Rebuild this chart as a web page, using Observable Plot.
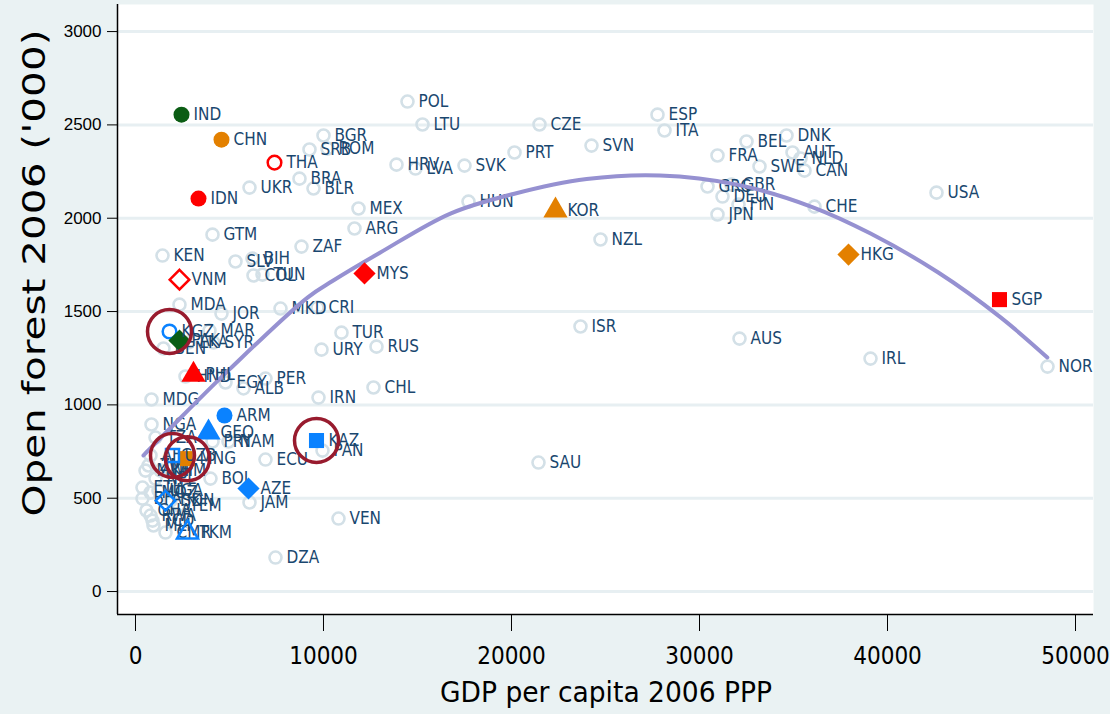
<!DOCTYPE html>
<html><head><meta charset="utf-8">
<script src="https://cdn.jsdelivr.net/npm/d3@7"></script>
<script src="https://cdn.jsdelivr.net/npm/@observablehq/plot@0.6"></script>
<style>body{margin:0;background:#eaf2f3;overflow:hidden}</style>
</head><body><div id="chart"></div>
<script>
// ---- data (GDP per capita 2006 PPP, open forest 2006 '000) ----
const grayCodes = ["POL","LTU","BGR","SRB","ROM","HRV","LVA","SVK","PRT","CZE","SVN","ESP","ITA","UKR","BRA","BLR","MEX","ARG","HUN","NZL","FRA","BEL","DNK","AUT","NLD","SWE","CAN","GRC","GBR","DEU","FIN","JPN","CHE","USA","GTM","KEN","SLV","BIH","COL","TUN","ZAF","MDA","JOR","MKD","CRI","MAR","SYR","LKA","BEN","TUR","URY","RUS","ISR","AUS","IRL","NOR","HND","EGY","ALB","PER","CHL","IRN","MDG","NGA","TZA","PRY","NAM","ECU","PAN","SAU","AFG","MWI","NPL","BOL","ETH","MOZ","UGA","BFA","SDN","YEM","JAM","RWA","MLI","CMR","VEN","DZA","ZMB","KHM","GHA","TCD"];
const grayGdp   = [14468,15266,10000,9255,10213,13883,14894,17500,20160,21489,24255,27766,28138,6064,8723,9468,11862,11649,17713,24734,30957,32500,34628,34947,35372,33191,35585,30426,31702,31223,32074,30957,36117,42606,4096,1436,5319,6223,6277,6755,8830,2340,4574,7713,9681,3936,4149,2819,1489,10957,9894,12819,23670,32128,39096,48511,2660,4787,5745,6915,12660,9734,851,851,1064,4096,4947,6915,9947,21436,798,532,1064,3989,372,798,1223,372,1862,2287,6064,798,957,1596,10798,7447,691,1330,585,904];
const grayForest= [2625,2502,2443,2368,2373,2287,2266,2282,2352,2502,2389,2555,2470,2164,2212,2159,2052,1945,2089,1886,2336,2411,2443,2352,2320,2277,2255,2170,2180,2116,2073,2020,2062,2137,1912,1800,1768,1784,1693,1698,1848,1537,1489,1516,1521,1398,1334,1334,1302,1387,1296,1312,1420,1355,1248,1205,1152,1120,1088,1141,1093,1039,1029,895,825,804,804,707,755,691,729,648,605,605,557,530,541,498,487,461,477,407,354,316,391,182,675,648,434,380];

const hlCodes  = ["IND","PAK","CHN","KOR","HKG","MNG","THA","IDN","VNM","MYS","SGP","PHL","KGZ","ARM","GEO","UZB","AZE","TJK","TKM","KAZ"];
const hlGdp    = [2447,2340,4574,22340,37926,2766,7394,3351,2340,12181,45957,3085,1809,4734,3883,1968,6011,1596,2766,9628];
const hlForest = [2555,1345,2421,2041,1805,712,2298,2105,1671,1704,1564,1162,1393,943,852,729,552,487,316,809];
const hlRegion = ["South Asia","South Asia","East Asia","East Asia","East Asia","East Asia","South-East Asia","South-East Asia","South-East Asia","South-East Asia","South-East Asia","South-East Asia","Central Asia & Caucasus","Central Asia & Caucasus","Central Asia & Caucasus","Central Asia & Caucasus","Central Asia & Caucasus","Central Asia & Caucasus","Central Asia & Caucasus","Central Asia & Caucasus"];
const hlShape  = ["circle","diamond","circle","triangle","diamond","square","circle","circle","diamond","diamond","square","triangle","circle","circle","triangle","square","diamond","diamond","triangle","square"];
const hlHollow = [false,false,false,false,false,false,true,false,true,false,false,false,true,false,false,true,false,true,true,false];
const ringCodes = ["KGZ","UZB","MNG","KAZ"];

// fitted quadratic curve
const fitGdp    = [425,1900,5000,9150,10500,13000,16750,20100,24000,27900,32000,36000,39100,42700,46000,48500];
const fitForest = [729,880,1190,1575,1665,1815,2025,2130,2210,2229,2180,2060,1918,1709,1470,1254];

const xTicks = [0,10000,20000,30000,40000,50000];
const yTicks = [0,500,1000,1500,2000,2500,3000];
const regions = ["South Asia","East Asia","South-East Asia","Central Asia & Caucasus"];

// ---- build tables ----
const gray = grayCodes.map((c,i)=>({code:c,gdp:grayGdp[i],forest:grayForest[i]}));
const hl = hlCodes.map((c,i)=>({code:c,gdp:hlGdp[i],forest:hlForest[i],region:hlRegion[i],shape:hlShape[i],hollow:hlHollow[i]}));
const rings = hl.filter(d=>ringCodes.includes(d.code));
const fit = fitGdp.map((g,i)=>({gdp:g,forest:fitForest[i]}));

const NARROW = "'Liberation Sans Narrow','Arial Narrow','DejaVu Sans Condensed',sans-serif";
const REG = "'Liberation Sans',Arial,sans-serif";
const symbolName = {circle:"circle",diamond:"diamond2",triangle:"triangle",square:"square"};
const symbolR = {circle:8,diamond:10,triangle:9,square:8.5};

const hlMarks = [];
for (const s of Object.keys(symbolName)) {
  hlMarks.push(Plot.dot(hl.filter(d=>d.shape===s && !d.hollow),{x:"gdp",y:"forest",symbol:symbolName[s],r:symbolR[s],fill:"region",stroke:null}));
  hlMarks.push(Plot.dot(hl.filter(d=>d.shape===s && d.hollow),{x:"gdp",y:"forest",symbol:symbolName[s],r:symbolR[s]-1.2,stroke:"region",strokeWidth:2.5,fill:"none"}));
}

const chart = Plot.plot({
  width:1110, height:714,
  marginLeft:117, marginRight:17, marginTop:4, marginBottom:100,
  x:{domain:[-957,50957]},
  y:{domain:[-123,3145]},
  color:{domain:regions, range:["#0b5d14","#e38000","#ff0000","#0a82ff"]},
  style:{background:"#eaf2f3", fontFamily:REG, color:"#000", overflow:"visible"},
  marks:[
    Plot.frame({fill:"white", stroke:null}),
    Plot.ruleY(yTicks,{stroke:"#e7eff2",strokeWidth:3}),
    Plot.ruleX([-957],{stroke:"#000",strokeWidth:1.5}),
    Plot.ruleY([-123],{stroke:"#000",strokeWidth:1.5}),
    Plot.axisY({ticks:yTicks,tickFormat:d3.format("d"),tickSize:10,tickPadding:6,fontSize:17,fontFamily:REG,label:null}),
    Plot.axisX({ticks:xTicks,tickFormat:d3.format("d"),tickSize:17,tickPadding:15,fontSize:24,fontFamily:NARROW,label:null}),
    Plot.dot(gray,{x:"gdp",y:"forest",r:6,stroke:"#d3e0e7",strokeWidth:2.6,fill:"none"}),
    Plot.text(gray,{x:"gdp",y:"forest",text:"code",dx:11,textAnchor:"start",fill:"#1a476f",fontSize:17,fontFamily:NARROW}),
    Plot.line(fit,{x:"gdp",y:"forest",stroke:"#9691d1",strokeWidth:4,curve:"catmull-rom"}),
    ...hlMarks,
    Plot.text(hl,{x:"gdp",y:"forest",text:"code",dx:12,textAnchor:"start",fill:"#1a476f",fontSize:17,fontFamily:NARROW}),
    Plot.dot(rings,{x:"gdp",y:"forest",r:22,stroke:"#981b2e",strokeWidth:3.5,fill:"none"})
  ]
});
document.getElementById("chart").appendChild(chart);

const svg = d3.select(chart);
svg.append("text")
  .attr("transform","translate(34,273) rotate(-90)")
  .attr("text-anchor","middle").attr("dy","0.35em")
  .attr("font-family",NARROW).attr("font-size",32).attr("fill","#000")
  .attr("textLength",487).attr("lengthAdjust","spacingAndGlyphs")
  .text("Open forest 2006 ('000)");
svg.append("text")
  .attr("x",606).attr("y",692)
  .attr("text-anchor","middle").attr("dy","0.35em")
  .attr("font-family",NARROW).attr("font-size",29).attr("fill","#000")
  .attr("textLength",332).attr("lengthAdjust","spacingAndGlyphs")
  .text("GDP per capita 2006 PPP");
</script></body></html>
